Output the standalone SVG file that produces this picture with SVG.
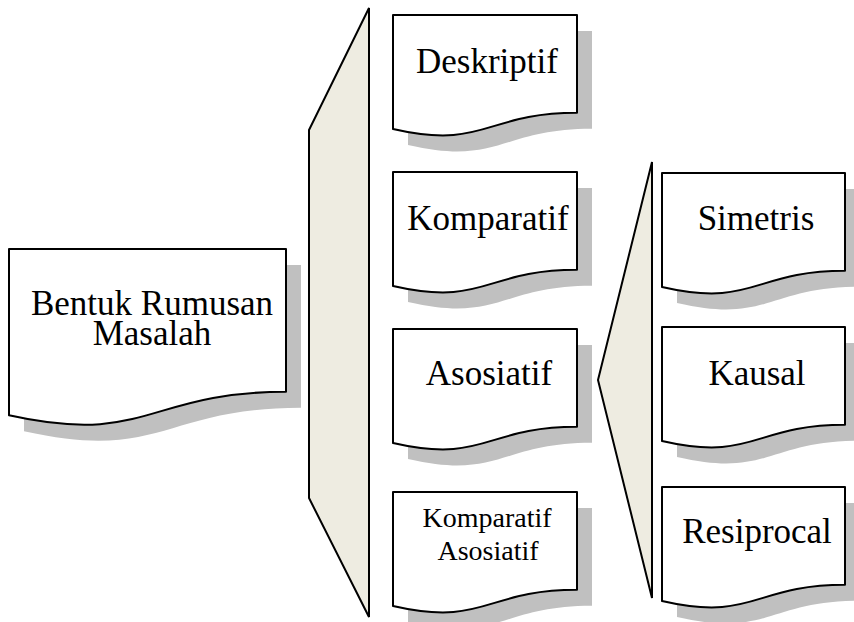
<svg xmlns="http://www.w3.org/2000/svg" xmlns:xlink="http://www.w3.org/1999/xlink" width="854" height="622" viewBox="0 0 854 622">
<style>
.shadow{fill:#c0c0c0;stroke:none}
.box{fill:#ffffff;stroke:#000000;stroke-width:2;stroke-linejoin:round}
.brace{fill:#eeece1;stroke:#000000;stroke-width:2;stroke-linejoin:miter}
.t{font-family:"Liberation Serif","Times New Roman",serif;font-size:35px;fill:#000000;text-anchor:middle}
.ts{font-size:28px}
</style>
<defs>
<path id="docL" d="M0,0 H277 V142.8 C138.5,142.8 138.5,197.1 0,166.3 Z"/>
<path id="docM" d="M0,0 H184 V97.8 C92,97.8 92,135.1 0,114 Z"/>
<path id="docR" d="M0,0 H183 V97.8 C91.5,97.8 91.5,135.1 0,114 Z"/>
</defs>
<rect width="854" height="622" fill="#ffffff"/>
<g id="connectors">
<polygon class="brace" points="369,8 309,130 309,498 369,617"/>
<polygon class="brace" points="652,162 598,380 652,598"/>
</g>
<g id="node-bentuk">
<use xlink:href="#docL" href="#docL" class="shadow" x="24" y="265"/>
<use xlink:href="#docL" href="#docL" class="box" x="9" y="249"/>
<text class="t" x="152" y="315">Bentuk Rumusan</text>
<text class="t" x="152" y="345">Masalah</text>
</g>
<g id="node-deskriptif">
<use xlink:href="#docM" href="#docM" class="shadow" x="408" y="31"/>
<use xlink:href="#docM" href="#docM" class="box" x="393" y="15"/>
<text class="t" x="487" y="73">Deskriptif</text>
</g>
<g id="node-komparatif">
<use xlink:href="#docM" href="#docM" class="shadow" x="408" y="188"/>
<use xlink:href="#docM" href="#docM" class="box" x="393" y="172"/>
<text class="t" x="488" y="230">Komparatif</text>
</g>
<g id="node-asosiatif">
<use xlink:href="#docM" href="#docM" class="shadow" x="408" y="345"/>
<use xlink:href="#docM" href="#docM" class="box" x="393" y="329"/>
<text class="t" x="489" y="385">Asosiatif</text>
</g>
<g id="node-komparatif-asosiatif">
<use xlink:href="#docM" href="#docM" class="shadow" x="408" y="508"/>
<use xlink:href="#docM" href="#docM" class="box" x="393" y="492"/>
<text class="t ts" x="487" y="527">Komparatif</text>
<text class="t ts" x="488" y="560">Asosiatif</text>
</g>
<g id="node-simetris">
<use xlink:href="#docR" href="#docR" class="shadow" x="677" y="189"/>
<use xlink:href="#docR" href="#docR" class="box" x="662" y="173"/>
<text class="t" x="756" y="230">Simetris</text>
</g>
<g id="node-kausal">
<use xlink:href="#docR" href="#docR" class="shadow" x="677" y="343"/>
<use xlink:href="#docR" href="#docR" class="box" x="662" y="327"/>
<text class="t" x="757" y="385">Kausal</text>
</g>
<g id="node-resiprocal">
<use xlink:href="#docR" href="#docR" class="shadow" x="677" y="503"/>
<use xlink:href="#docR" href="#docR" class="box" x="662" y="487"/>
<text class="t" x="757" y="543">Resiprocal</text>
</g>
</svg>
